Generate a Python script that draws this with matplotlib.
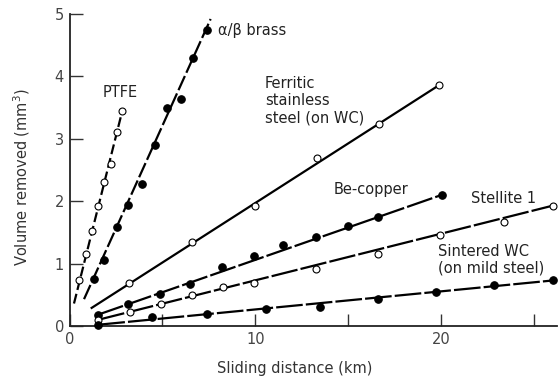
import matplotlib
matplotlib.use("Agg")
import matplotlib.pyplot as plt

plt.rcParams['font.family'] = ['DejaVu Sans']

# ---- data (sliding distance km, volume removed mm^3) ----
ptfe_x = [0.53, 0.89, 1.23, 1.52, 1.84, 2.25, 2.57, 2.84]
ptfe_y = [0.74, 1.16, 1.53, 1.93, 2.31, 2.60, 3.11, 3.45]
ptfe_fit_x = [0.24, 2.84]
ptfe_fit_y = [0.36, 3.45]

brass_x = [1.29, 1.84, 2.54, 3.16, 3.91, 4.58, 5.23, 6.01, 6.62, 7.38]
brass_y = [0.75, 1.05, 1.59, 1.94, 2.27, 2.90, 3.49, 3.63, 4.30, 4.75]
brass_fit_x = [0.78, 7.59]
brass_fit_y = [0.43, 4.92]

ferritic_x = [3.22, 6.60, 9.95, 13.33, 16.62, 19.88]
ferritic_y = [0.69, 1.34, 1.93, 2.69, 3.24, 3.86]
ferritic_fit_x = [1.19, 19.88]
ferritic_fit_y = [0.29, 3.86]

becu_x = [1.52, 3.13, 4.88, 6.48, 8.22, 9.93, 11.49, 13.25, 15.0, 16.59, 20.01]
becu_y = [0.18, 0.35, 0.52, 0.67, 0.94, 1.12, 1.29, 1.43, 1.61, 1.75, 2.10]
becu_fit_x = [1.52, 20.01]
becu_fit_y = [0.18, 2.10]

stellite_x = [1.55, 3.25, 4.92, 6.60, 8.27, 9.92, 13.27, 16.57, 19.92, 23.38, 26.01]
stellite_y = [0.10, 0.23, 0.35, 0.50, 0.62, 0.69, 0.91, 1.16, 1.46, 1.67, 1.93]
stellite_fit_x = [1.55, 26.01]
stellite_fit_y = [0.10, 1.93]

wc_x = [1.55, 4.42, 7.38, 10.55, 13.49, 16.59, 19.69, 22.82, 26.01]
wc_y = [0.02, 0.15, 0.19, 0.28, 0.30, 0.44, 0.55, 0.66, 0.73]
wc_fit_x = [1.55, 26.01]
wc_fit_y = [0.02, 0.73]

x_major = [0, 10, 20]
x_minor = [5, 15, 25]
y_ticks = [0, 1, 2, 3, 4, 5]

fig = plt.figure(figsize=(5.58, 3.78), dpi=100)
ax = fig.add_axes([0.1246, 0.1376, 0.873, 0.8254])
ax.set_xlim(0, 26.2)
ax.set_ylim(0, 5)

short_dash = (0, (4.5, 1.8))
mid_dash = (0, (7, 1.6))
long_dash = (0, (12, 1.4))

def series(fx, fy, px, py, ls, filled):
    ax.plot(fx, fy, color='black', lw=1.6, linestyle=ls, clip_on=False,
            zorder=2)
    if filled:
        ax.plot(px, py, 'o', ms=5.4, mfc='black', mec='black', mew=0.8,
                clip_on=False, zorder=3)
    else:
        ax.plot(px, py, 'o', ms=5.0, mfc='white', mec='black', mew=0.8,
                clip_on=False, zorder=3)

series(ptfe_fit_x, ptfe_fit_y, ptfe_x, ptfe_y, short_dash, False)
series(brass_fit_x, brass_fit_y, brass_x, brass_y, mid_dash, True)
series(ferritic_fit_x, ferritic_fit_y, ferritic_x, ferritic_y, '-', False)
series(becu_fit_x, becu_fit_y, becu_x, becu_y, long_dash, True)
series(stellite_fit_x, stellite_fit_y, stellite_x, stellite_y, long_dash, False)
series(wc_fit_x, wc_fit_y, wc_x, wc_y, long_dash, True)

tc = '#222222'
fs = 10.5
ax.text(8.0, 4.73, 'α/β brass', fontsize=fs, color=tc, va='center', ha='left')
ax.text(2.71, 3.74, 'PTFE', fontsize=fs, color=tc, va='center', ha='center')
ax.text(10.5, 3.61, 'Ferritic\nstainless\nsteel (on WC)', fontsize=fs,
        color=tc, va='center', ha='left', linespacing=1.18)
ax.text(14.22, 2.18, 'Be-copper', fontsize=fs, color=tc, va='center', ha='left')
ax.text(21.6, 2.05, 'Stellite 1', fontsize=fs, color=tc, va='center', ha='left')
ax.text(19.8, 1.06, 'Sintered WC\n(on mild steel)', fontsize=fs, color=tc,
        va='center', ha='left', linespacing=1.1)

for s in ['top', 'right']:
    ax.spines[s].set_visible(False)
for s in ['left', 'bottom']:
    ax.spines[s].set_linewidth(1.3)
    ax.spines[s].set_color('#222222')

ax.set_xticks(x_major)
ax.set_xticklabels([str(v) for v in x_major])
ax.set_xticks(x_minor, minor=True)
ax.set_yticks(y_ticks)
ax.set_yticklabels([str(v) for v in y_ticks])
ax.tick_params(axis='both', which='both', direction='in', length=9,
               width=1.0, color='#333333', labelsize=10.5,
               labelcolor='#444444', pad=4)

ax.set_xlabel('Sliding distance (km)', fontsize=10.5, color='#333333')
ax.set_ylabel('Volume removed (mm$^3$)', fontsize=10.5, color='#333333')
ax.xaxis.set_label_coords(0.4626, -0.112)
ax.yaxis.set_label_coords(-0.077, 0.478)

fig.savefig('out.png', dpi=100)
